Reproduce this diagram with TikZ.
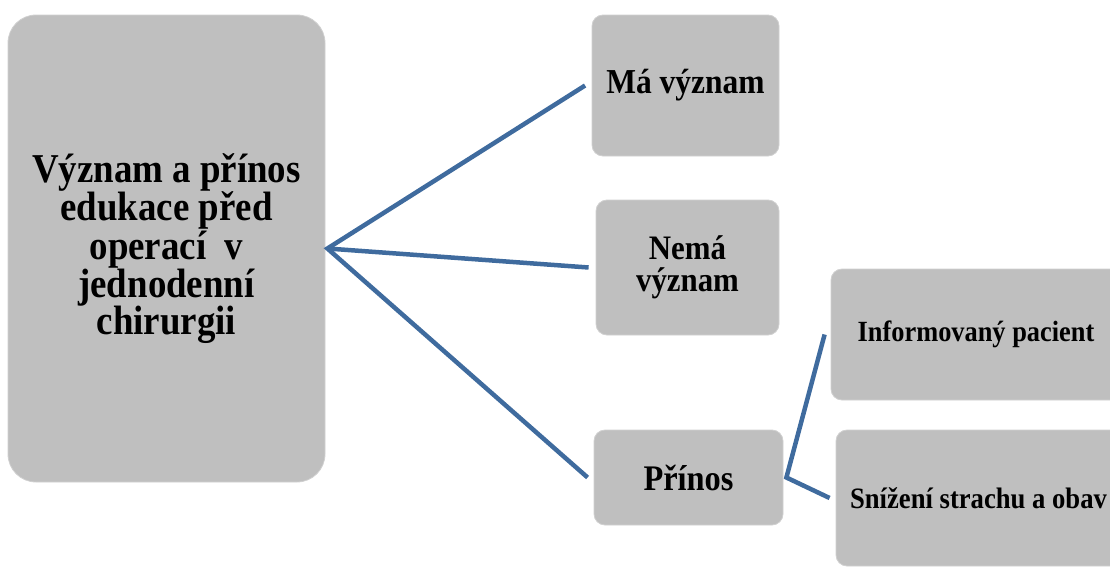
\documentclass[tikz,border=0pt]{standalone}
\usepackage{fontspec}
\setmainfont{Liberation Serif}[FakeStretch=0.9]
\definecolor{boxgray}{HTML}{BFBFBF}
\definecolor{boxedge}{HTML}{D0D0D0}
\definecolor{connblue}{HTML}{3F6B9E}
\tikzset{
  gbox/.style={rectangle, fill=boxgray, draw=boxedge, line width=0.8pt, rounded corners=11pt, align=center, inner sep=0pt, font=\bfseries},
  conn/.style={draw=connblue, line width=4.5pt, line join=miter, line cap=butt}
}
\begin{document}
\begin{tikzpicture}[x=1pt,y=-1pt]
\useasboundingbox (0,0) rectangle (1110,570);
\clip (0,0) rectangle (1110,570);
\node[gbox, rounded corners=28pt, minimum width=317pt, minimum height=467pt,
      font=\bfseries\fontsize{41}{37.2}\selectfont] (main) at (166.5,248.5)
  {Význam a přínos\\edukace před\\operací~ v\\jednodenní\\chirurgii};
\node[gbox, minimum width=187pt, minimum height=141pt, font=\bfseries\fontsize{35}{36}\selectfont] (ma) at (685.5,85.5) {Má význam};
\node[gbox, minimum width=183pt, minimum height=135pt, font=\bfseries\fontsize{34.3}{32}\selectfont] (nema) at (687.5,267.5) {Nemá\\význam};
\node[gbox, minimum width=189pt, minimum height=95pt, font=\bfseries\fontsize{36}{36}\selectfont] (prinos) at (688.5,477.5) {Přínos};
\node[gbox, minimum width=290pt, minimum height=131pt, font=\bfseries\fontsize{29.3}{30}\selectfont] (info) at (976,334.5) {Informovaný pacient};
\node[gbox, minimum width=285pt, minimum height=136pt, font=\bfseries\fontsize{29.6}{30}\selectfont] (sniz) at (978.5,498) {Snížení strachu a obav};
\coordinate (hub) at ([xshift=2pt]main.east);
\coordinate (hub2) at ([xshift=3pt]prinos.east);
\draw[conn] ([xshift=-6.5pt]ma.west) -- (hub) -- ([xshift=-6pt]prinos.west);
\draw[conn] (hub) -- ([xshift=-7pt]nema.west);
\draw[conn] ([xshift=-6pt]info.west) -- (hub2) -- ([xshift=-6pt]sniz.west);
\end{tikzpicture}
\end{document}
